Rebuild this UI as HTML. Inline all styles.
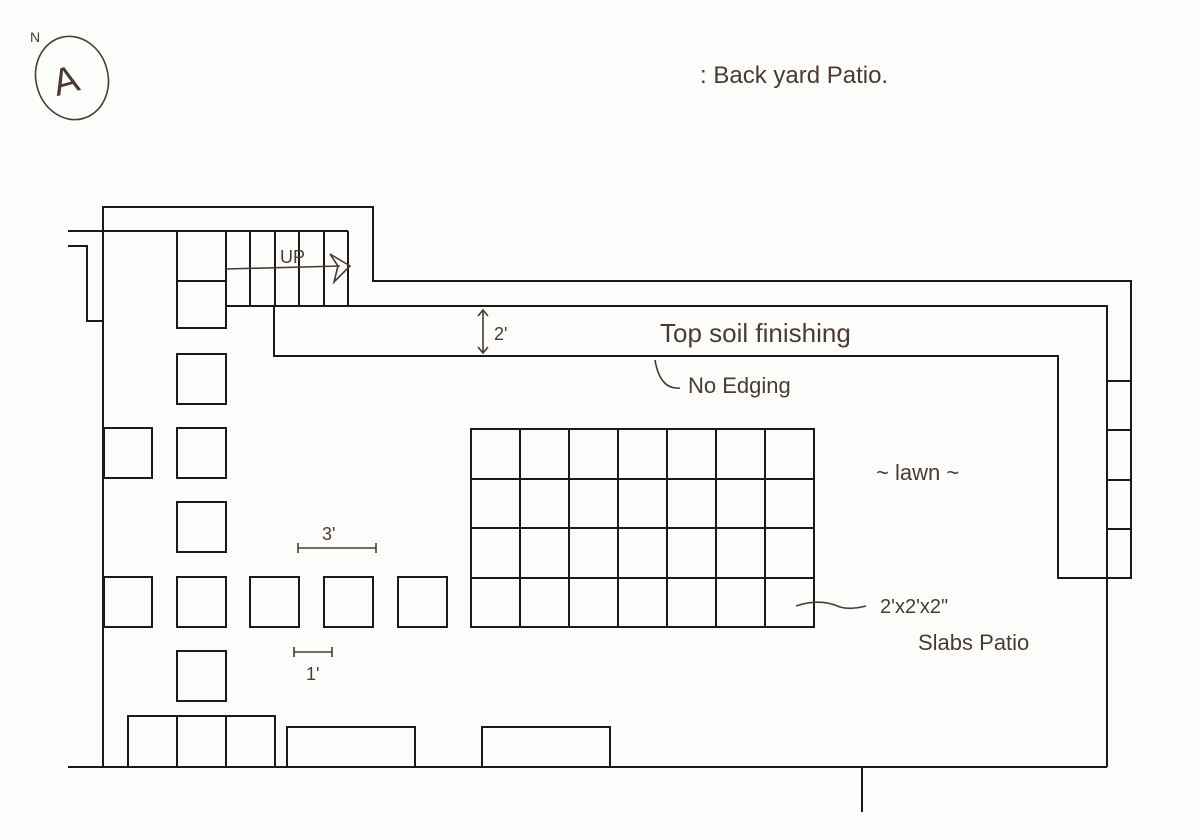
<!DOCTYPE html>
<html><head><style>
body{margin:0;background:#fff}
svg{display:block}
text{font-family:"Liberation Sans",sans-serif;fill:#4a3a35}
</style></head><body>
<svg width="1200" height="838" viewBox="0 0 1200 838" xmlns="http://www.w3.org/2000/svg">
<rect width="1200" height="838" fill="#fdfdfb"/>
<g stroke="#1a1a1a" stroke-width="2" fill="none">
<polyline points="103,767 103,207 373,207 373,281 1131,281 1131,578 1058,578 1058,356 274,356 274,306 1107,306 1107,767"/>
<line x1="68" y1="231" x2="348" y2="231"/>
<polyline points="68,246 87,246 87,321 103,321"/>
<line x1="68" y1="767" x2="1107" y2="767"/>
<line x1="862" y1="767" x2="862" y2="812"/>
<line x1="226" y1="306" x2="274" y2="306"/>
<line x1="348" y1="231" x2="348" y2="306"/>
<line x1="226" y1="231" x2="226" y2="306"/>
<line x1="250" y1="231" x2="250" y2="306"/>
<line x1="275" y1="231" x2="275" y2="306"/>
<line x1="299" y1="231" x2="299" y2="306"/>
<line x1="324" y1="231" x2="324" y2="306"/>
<line x1="1107" y1="381" x2="1131" y2="381"/>
<line x1="1107" y1="430" x2="1131" y2="430"/>
<line x1="1107" y1="480" x2="1131" y2="480"/>
<line x1="1107" y1="529" x2="1131" y2="529"/>
<rect x="177" y="231" width="49" height="50"/>
<rect x="177" y="281" width="49" height="47"/>
<rect x="177" y="354" width="49" height="50"/>
<rect x="177" y="428" width="49" height="50"/>
<rect x="177" y="502" width="49" height="50"/>
<rect x="177" y="577" width="49" height="50"/>
<rect x="177" y="651" width="49" height="50"/>
<rect x="104" y="428" width="48" height="50"/>
<rect x="104" y="577" width="48" height="50"/>
<rect x="250" y="577" width="49" height="50"/>
<rect x="324" y="577" width="49" height="50"/>
<rect x="398" y="577" width="49" height="50"/>
<rect x="471" y="429" width="343" height="198"/>
<line x1="520" y1="429" x2="520" y2="627"/>
<line x1="569" y1="429" x2="569" y2="627"/>
<line x1="618" y1="429" x2="618" y2="627"/>
<line x1="667" y1="429" x2="667" y2="627"/>
<line x1="716" y1="429" x2="716" y2="627"/>
<line x1="765" y1="429" x2="765" y2="627"/>
<line x1="471" y1="479" x2="814" y2="479"/>
<line x1="471" y1="528" x2="814" y2="528"/>
<line x1="471" y1="578" x2="814" y2="578"/>
<rect x="128" y="716" width="147" height="51"/>
<line x1="177" y1="716" x2="177" y2="767"/>
<line x1="226" y1="716" x2="226" y2="767"/>
<rect x="287" y="727" width="128" height="40"/>
<rect x="482" y="727" width="128" height="40"/>
</g>
<g stroke="#4a3a35" stroke-width="1.6" fill="none">
<ellipse cx="72" cy="78" rx="36" ry="42" transform="rotate(-15 72 78)"/>
<path d="M226,269 L340,266"/>
<path d="M330,254 L350,266 L334,282 L338,266 Z"/>
<path d="M483,310 L483,353 M478,316 L483,310 L488,316 M478,347 L483,353 L488,347"/>
<path d="M298,548 L376,548 M298,543 L298,553 M376,543 L376,553"/>
<path d="M294,652 L332,652 M294,647 L294,657 M332,647 L332,657"/>
<path d="M655,360 Q660,390 680,388"/>
<path d="M796,606 Q820,598 840,607 Q850,610 866,606"/>
</g>
<text x="54" y="95" font-size="38" transform="rotate(-15 60 85)">A</text>
<text x="30" y="42" font-size="14">N</text>
<text x="700" y="83" font-size="24">: Back yard Patio.</text>
<text x="280" y="263" font-size="18">UP</text>
<text x="494" y="340" font-size="18">2'</text>
<text x="660" y="342" font-size="26">Top soil finishing</text>
<text x="688" y="393" font-size="22">No Edging</text>
<text x="876" y="480" font-size="22">~ lawn ~</text>
<text x="322" y="540" font-size="18">3'</text>
<text x="306" y="680" font-size="18">1'</text>
<text x="880" y="613" font-size="20">2'x2'x2"</text>
<text x="918" y="650" font-size="22">Slabs Patio</text>
</svg>
</body></html>
